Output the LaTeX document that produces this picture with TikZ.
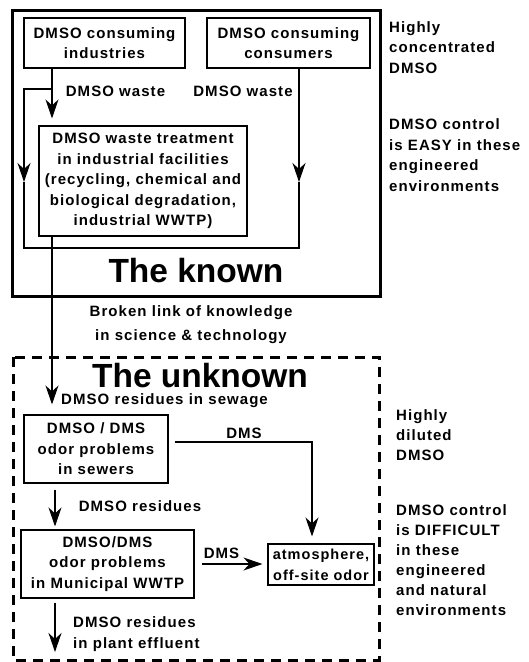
\documentclass[tikz,border=0pt]{standalone}
\usepackage{fontspec}
\setmainfont{Liberation Sans}[LetterSpace=7]
\newfontfamily\ttlfont{Liberation Sans}
\usetikzlibrary{arrows.meta,calc}
\begin{document}
\begin{tikzpicture}[x=1pt,y=-1pt,
  lbl/.style={font=\fontsize{15}{20.5}\selectfont\bfseries, inner sep=0pt},
  boxn/.style={lbl, draw, line width=1.1pt, align=center},
  sidetext/.style={lbl, align=left, anchor=west},
  ttl/.style={font=\ttlfont\fontsize{33.5}{36}\selectfont\bfseries, inner sep=0pt, anchor=base, text depth=0pt},
  ln/.style={line width=1.1pt},
  arr/.style={ln, -{Stealth[length=19pt,width=13pt,inset=6pt]}},
]
\useasboundingbox (0,0) rectangle (529,662);
\fill[white] (0,0) rectangle (529,662);

% regions
\draw[line width=3pt] (12,10.5) rectangle (380.5,296);
\draw[line width=3pt, dash pattern=on 10pt off 7pt] (13,357) rectangle (379,660);

% boxes
\node[boxn, minimum width=161pt, minimum height=50pt] (b1) at (104.5,43) {DMSO consuming\\industries};
\node[boxn, minimum width=163pt, minimum height=50pt] (b2) at (288.5,43) {DMSO consuming\\consumers};
\node[boxn, minimum width=208pt, minimum height=110pt] (b3) at (143,181) {DMSO waste treatment\\in industrial facilities\\(recycling, chemical and\\biological degradation,\\industrial WWTP)};
\node[boxn, minimum width=144pt, minimum height=68pt] (b4) at (96,449) {DMSO / DMS\\odor problems\\in sewers};
\node[boxn, minimum width=173pt, minimum height=68pt] (b5) at (107.5,564) {DMSO/DMS\\odor problems\\in Municipal WWTP};
\node[boxn, minimum width=106pt, minimum height=41pt, font=\fontsize{14.5}{21}\selectfont\bfseries] (atm) at (321,564.5) {atmosphere,\\off-site odor};

% titles
\node[ttl] (tk) at (196,282) {The known};
\node[ttl] (tu) at (200,387) {The unknown};

% labels
\node[lbl] (w1) at (115.5,91) {DMSO waste};
\node[lbl] (w2) at (243,91) {DMSO waste};
\node[lbl, align=center, font=\fontsize{15}{24}\selectfont\bfseries] (broken) at (191,325) {Broken link of knowledge\\in science \& technology};
\node[lbl] (sew) at (164.5,400.5) {DMSO residues in sewage};
\node[lbl] (dms1) at (244,433) {DMS};
\node[lbl] (res) at (140,506) {DMSO residues};
\node[lbl] (dms2) at (221.5,553) {DMS};
\node[sidetext, font=\fontsize{15}{21}\selectfont\bfseries] (eff) at (73,634.5) {DMSO residues\\in plant effluent};

% side texts
\node[sidetext] (s1) at (389,47.5) {Highly\\concentrated\\DMSO};
\node[sidetext] (s2) at (389,155) {DMSO control\\is EASY in these\\engineered\\environments};
\node[sidetext, font=\fontsize{15}{20}\selectfont\bfseries] (s3) at (396,435) {Highly\\diluted\\DMSO};
\node[sidetext, font=\fontsize{15}{20}\selectfont\bfseries] (s4) at (396,560) {DMSO control\\is DIFFICULT\\in these\\engineered\\and natural\\environments};

% coordinates
\coordinate (k1) at (52,89);
\coordinate (k2) at (24,89);
\coordinate (k2m) at (24,182);
\coordinate (k3) at (24,248);
\coordinate (k4) at (299,248);
\coordinate (k4m) at (299,182);
\coordinate (cA) at (312,442);
\coordinate (cx2) at (55,0);
\coordinate (endp) at (55,652);

% connectors (known)
\draw[arr, shorten >=7pt] (b1.south -| k1) -- (b3.north -| k1);
\draw[arr] (k1) -- (k2) -- (k2m);
\draw[ln] (k2m) -- (k3) -- (k4) -- (k4m);
\draw[arr] (b2.south -| k4) -- (k4m);

% broken link
\draw[arr, shorten >=10pt] (b3.south -| k1) -- (b4.north -| k1);

% connectors (unknown)
\draw[arr, shorten <=6pt, shorten >=7pt] (b4.east |- cA) -- (cA) -- (atm.north -| cA);
\draw[arr, shorten <=6pt, shorten >=3pt] (b4.south -| cx2) -- (b5.north -| cx2);
\draw[arr, shorten <=7pt, shorten >=5pt] (b5.east) -- (b5.east -| atm.west);
\draw[arr, shorten <=4pt] (b5.south -| cx2) -- (endp);
\end{tikzpicture}
\end{document}
